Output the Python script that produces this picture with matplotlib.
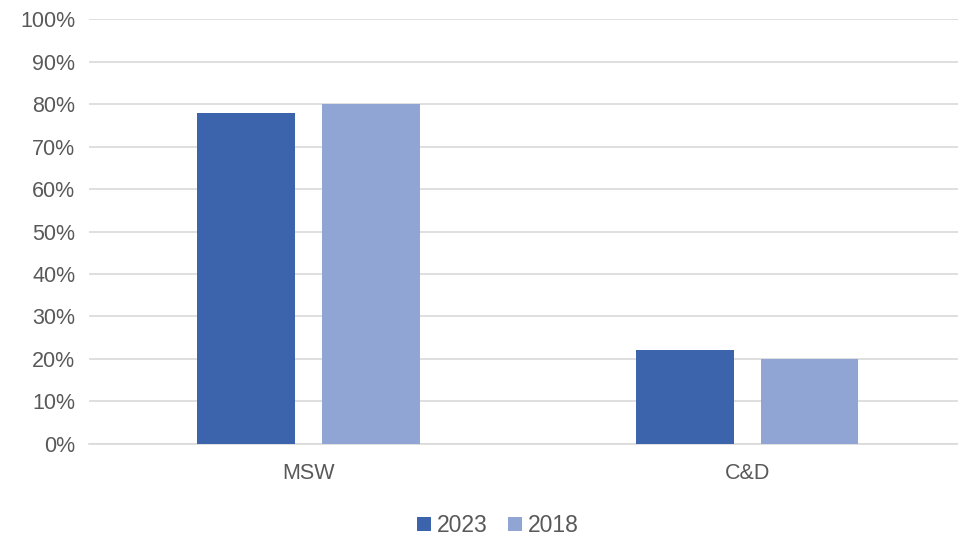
import numpy as np
from matplotlib import pyplot as plt
from matplotlib.ticker import PercentFormatter

categories = ["MSW", "C&D"]
years = ["2023", "2018"]
share_2023 = [77.9, 22.1]
share_2018 = [80.0, 20.0]

colors = ["#3C64AD", "#91A5D5"]
text_color = "#595959"

plt.rcParams["font.family"] = ["Liberation Sans", "DejaVu Sans"]

fig = plt.figure(figsize=(9.58, 5.39), dpi=100)
ax = fig.add_axes([0.093, 0.1763, 0.916, 0.7884])

x = np.arange(len(categories))
width = 0.223
offset = 0.142

ax.bar(x - offset, share_2023, width, color=colors[0], label=years[0], zorder=3)
ax.bar(x + offset, share_2018, width, color=colors[1], label=years[1], zorder=3)

ax.set_ylim(0, 100)
ax.set_xlim(-0.5, 1.5)
ax.set_yticks(np.arange(0, 101, 10))
ax.yaxis.set_major_formatter(PercentFormatter(decimals=0))
ax.set_xticks(x)
ax.set_xticklabels(categories)

ax.grid(axis="y", color="#D9D9D9", linewidth=1.2, zorder=0)
for s in ["top", "right", "left"]:
    ax.spines[s].set_visible(False)
ax.spines["bottom"].set_color("#D9D9D9")
ax.spines["bottom"].set_linewidth(1.2)
ax.tick_params(length=0, colors=text_color, labelsize=15.5)
ax.tick_params(axis="x", pad=14)
ax.tick_params(axis="y", pad=10)

ax.legend(loc="upper center", bbox_to_anchor=(0.466, -0.143), ncol=2, frameon=False,
          fontsize=16.5, labelcolor=text_color, handlelength=0.6, handleheight=0.6,
          handletextpad=0.25, columnspacing=0.9, borderaxespad=0.2, borderpad=0.2)

plt.savefig("out.png", dpi=100)
